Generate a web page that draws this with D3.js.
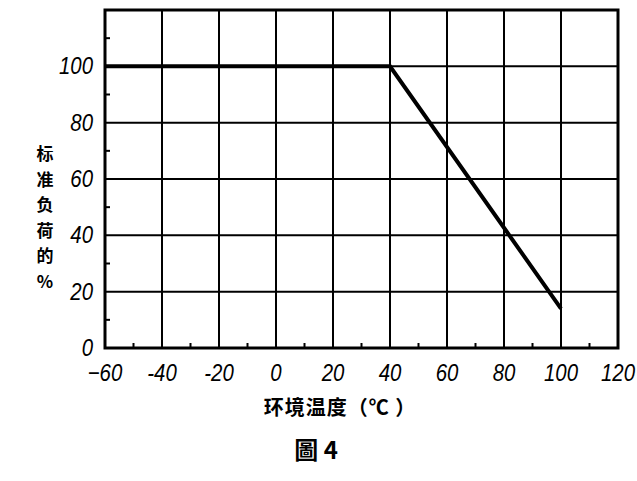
<!DOCTYPE html>
<html>
<head>
<meta charset="utf-8">
<script src="https://cdn.jsdelivr.net/npm/d3@7"></script>
<style>
  body { margin: 0; background: #fff; }
  .num { font-family: "Liberation Sans", "DejaVu Sans", sans-serif; font-style: italic; font-size: 24px; fill: #000; }
  .cjk { font-family: "Noto Sans CJK SC", sans-serif; font-weight: bold; fill: #000; }
</style>
</head>
<body>
<div id="chart"></div>
<script>
// derating curve: ambient temperature vs % of rated load
var temps = [-60, 40, 100];
var loads = [100, 100, 14];
var xTicks = [-60, -40, -20, 0, 20, 40, 60, 80, 100, 120];
var xLabels = ["\u221260", "-40", "-20", "0", "20", "40", "60", "80", "100", "120"];
var yTicks = [0, 20, 40, 60, 80, 100];
var yTitle = ["标", "准", "负", "荷", "的", "%"];
var xTitle = "环境温度（℃ ）";
var caption = "圖 4";

var width = 637, height = 481;
var svg = d3.select("#chart").append("svg")
  .attr("width", width)
  .attr("height", height);

var x = d3.scaleLinear().domain([-60, 120]).range([105, 618]);
var y = d3.scaleLinear().domain([0, 120]).range([348, 10]);

// grid
svg.selectAll(".vgrid")
  .data(xTicks.slice(1, -1))
  .enter().append("line")
  .attr("x1", d => x(d)).attr("x2", d => x(d))
  .attr("y1", y(120)).attr("y2", y(0))
  .attr("stroke", "#000").attr("stroke-width", 2);

svg.selectAll(".hgrid")
  .data(yTicks.slice(1))
  .enter().append("line")
  .attr("x1", x(-60)).attr("x2", x(120))
  .attr("y1", d => y(d)).attr("y2", d => y(d))
  .attr("stroke", "#000").attr("stroke-width", 2);

// minor ticks
var xMinor = d3.range(-50, 120, 20);
svg.selectAll(".xminor")
  .data(xMinor)
  .enter().append("line")
  .attr("x1", d => x(d)).attr("x2", d => x(d))
  .attr("y1", y(0)).attr("y2", y(0) - 5)
  .attr("stroke", "#000").attr("stroke-width", 2);

var yMinor = d3.range(10, 120, 20);
svg.selectAll(".yminor")
  .data(yMinor)
  .enter().append("line")
  .attr("x1", x(-60)).attr("x2", x(-60) + 5)
  .attr("y1", d => y(d)).attr("y2", d => y(d))
  .attr("stroke", "#000").attr("stroke-width", 2);

// frame
svg.append("rect")
  .attr("x", x(-60)).attr("y", y(120))
  .attr("width", x(120) - x(-60)).attr("height", y(0) - y(120))
  .attr("fill", "none").attr("stroke", "#000").attr("stroke-width", 3);

// curve
var line = d3.line().x(d => x(d[0])).y(d => y(d[1]));
svg.append("path")
  .datum(d3.zip(temps, loads))
  .attr("d", line)
  .attr("fill", "none")
  .attr("stroke", "#000")
  .attr("stroke-width", 4)
  .attr("stroke-linejoin", "miter");

// tick labels
svg.selectAll(".ylab")
  .data(yTicks)
  .enter().append("text")
  .attr("class", "num")
  .attr("text-anchor", "end")
  .attr("transform", d => "translate(93," + (y(d) + 8) + ") scale(0.85,1)")
  .text(d => d);

svg.selectAll(".xlab")
  .data(xTicks)
  .enter().append("text")
  .attr("class", "num")
  .attr("text-anchor", "middle")
  .attr("transform", d => "translate(" + x(d) + ",381) scale(0.85,1)")
  .text((d, i) => xLabels[i]);

// axis titles
svg.selectAll(".ytitle")
  .data(yTitle)
  .enter().append("text")
  .attr("class", "cjk")
  .attr("x", 45)
  .attr("y", (d, i) => 160 + i * 25.5)
  .attr("text-anchor", "middle")
  .attr("font-size", 17)
  .text(d => d);

svg.append("text")
  .attr("class", "cjk")
  .attr("x", 340).attr("y", 415)
  .attr("text-anchor", "middle")
  .attr("font-size", 20)
  .attr("letter-spacing", 1)
  .text(xTitle);

svg.append("text")
  .attr("class", "cjk")
  .attr("x", 316).attr("y", 459)
  .attr("text-anchor", "middle")
  .attr("font-size", 24)
  .text(caption);
</script>
</body>
</html>
